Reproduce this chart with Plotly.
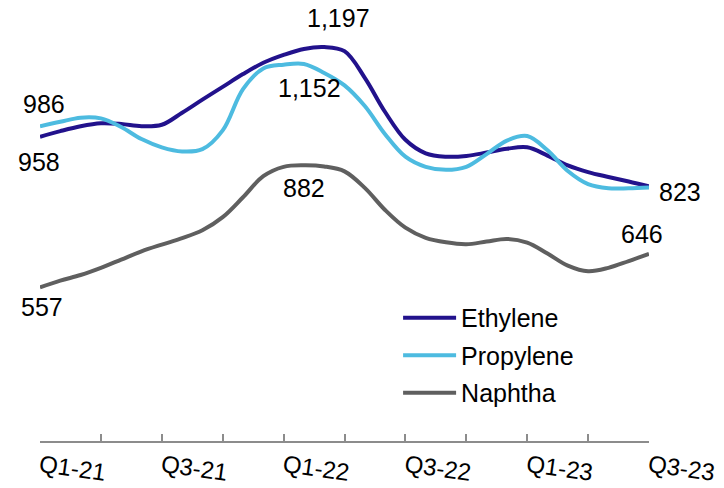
import plotly.graph_objects as go

# ---- data (monthly, Jan-21 .. Jul-23) ----
months = list(range(31))
tick_vals = list(range(0, 31, 3))
tick_text = ["Q1-21", "", "Q3-21", "", "Q1-22", "", "Q3-22", "", "Q1-23", "", "Q3-23"]

ethylene = [958, 973, 986, 994, 992, 986, 990, 1022, 1057, 1091, 1125, 1155, 1176, 1192, 1197,
            1186, 1115, 1024, 950, 914, 905, 907, 916, 926, 930, 908, 882, 864, 851, 839, 826]
propylene = [986, 998, 1009, 1007, 984, 952, 930, 919, 925, 975, 1085, 1140, 1150, 1152, 1128,
             1095, 1040, 965, 905, 878, 870, 878, 912, 948, 960, 922, 867, 832, 821, 821, 823]
naphtha = [557, 575, 590, 609, 631, 653, 671, 688, 709, 744, 797, 853, 878, 882, 879,
           866, 822, 763, 716, 689, 677, 672, 679, 686, 676, 647, 615, 600, 609, 627, 646]

series_names = ["Ethylene", "Propylene", "Naphtha"]
series_values = [ethylene, propylene, naphtha]
series_colors = ["#22128C", "#4DBBE0", "#5F5F5F"]

# labelled points: (series index, point index)
label_points = [(0, 0), (1, 0), (0, 14), (1, 13), (2, 13), (2, 0), (1, 30), (2, 30)]
# label placement styling: (xshift, yshift, xanchor)
label_style = [(-1, -25, "center"), (4, 22, "center"), (14, 29, "center"), (6, -24, "center"),
               (0, -23, "center"), (2, -20, "center"), (8, -4, "left"), (-7, 20, "center")]

FONT = "Liberation Sans, Arial, sans-serif"

fig = go.Figure()
for name, vals, col in zip(series_names, series_values, series_colors):
    fig.add_trace(go.Scatter(
        x=months, y=vals, name=name, mode="lines", legendgroup=name,
        line=dict(color=col, width=4, shape="spline", smoothing=1),
        cliponaxis=False, hoverinfo="skip",
    ))

for (si, pi), (xs, ys, xa) in zip(label_points, label_style):
    v = series_values[si][pi]
    fig.add_annotation(
        x=months[pi], y=v, text=f"{v:,}", showarrow=False,
        xshift=xs, yshift=ys, xanchor=xa, yanchor="middle",
        font=dict(family=FONT, size=25, color="#000000"),
    )

fig.update_layout(
    width=724, height=488,
    margin=dict(l=40, r=75, t=20, b=47, autoexpand=False),
    paper_bgcolor="white", plot_bgcolor="white",
    font=dict(family=FONT, size=25, color="#000000"),
    showlegend=True,
    legend=dict(
        x=0.588, y=0.347, xanchor="left", yanchor="top",
        bgcolor="rgba(0,0,0,0)", font=dict(family=FONT, size=25, color="#000000"),
        itemwidth=53, tracegroupgap=2,
    ),
    xaxis=dict(
        range=[0, 30], showgrid=False, zeroline=False, automargin=False,
        showline=True, linecolor="#8C8C8C", linewidth=2,
        ticks="inside", ticklen=7, tickwidth=2, tickcolor="#8C8C8C",
        tickvals=tick_vals, ticktext=tick_text, tickangle=8,
        tickfont=dict(family=FONT, size=24, color="#000000"),
    ),
    yaxis=dict(visible=False, range=[148, 1269], automargin=False),
)

fig.write_html(
    "out.html",
    config={"displayModeBar": False},
    post_script="document.body.style.margin='0';document.body.style.padding='0';",
)
